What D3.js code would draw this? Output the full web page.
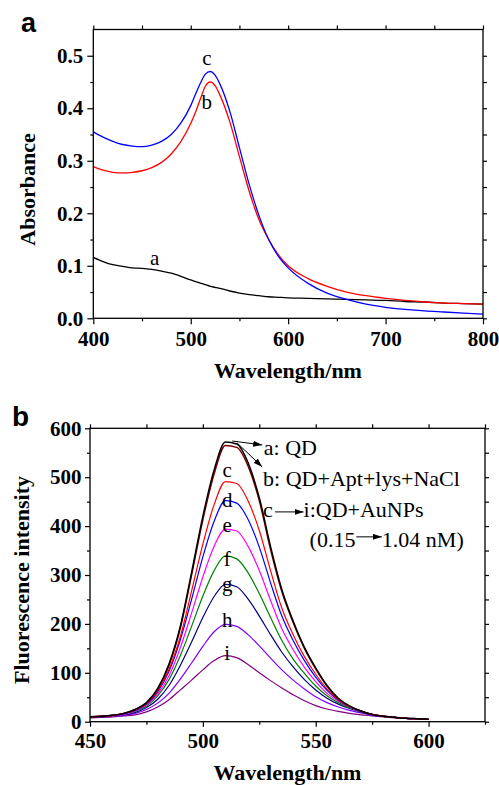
<!DOCTYPE html>
<html>
<head>
<meta charset="utf-8">
<script src="https://cdn.jsdelivr.net/npm/d3@7"></script>
<style>
  body { margin: 0; background: #fff; }
</style>
</head>
<body>
<div id="canvas"></div>
<script>
// ---- panel a: absorbance ----
const absWl = [400,410,420,430,440,450,460,470,480,490,500,505,510,515,520,525,530,540,550,560,570,580,590,600,620,640,660,680,700,720,740,760,780,800];
const absA = [.116,.108,.102,.099,.096,.095,.093,.090,.086,.080,.073,.070,.067,.064,.061,.059,.057,.052,.048,.045,.043,.041,.040,.039,.038,.037,.036,.035,.034,.032,.031,.029,.028,.027];
const absB = [.289,.282,.278,.277,.278,.281,.287,.297,.313,.337,.371,.393,.418,.442,.450,.443,.425,.375,.308,.242,.188,.150,.121,.100,.076,.061,.050,.043,.038,.034,.031,.029,.028,.027];
const absC = [.355,.345,.337,.331,.328,.327,.330,.337,.350,.372,.405,.427,.448,.465,.470,.463,.446,.395,.325,.255,.196,.150,.118,.096,.067,.048,.036,.027,.021,.017,.014,.012,.010,.008];
const absNames = ["a", "b", "c"];
const absColors = ["#000000", "#ff0000", "#0000ff"];
// label anchor (wavelength, absorbance) for each curve letter
const absLabelWl = [463, 516.5, 516.5];
const absLabelY = [0.101, 0.399, 0.483];

// ---- panel b: fluorescence ----
const flWl = [450,455,460,465,470,475,480,485,490,495,500,505,510,515,520,525,530,535,540,545,550,555,560,565,570,575,580,585,590,595,600];
const flA = [10,11,13,17,25,39,68,118,195,305,420,515,572,568,530,458,358,270,206,152,110,74,48,32,22,15,11,9,7,6,5];
const flB = [10,11,13,17,25,38,66,115,191,300,413,507,565,561,523,452,352,266,203,150,108,73,47,32,22,15,11,9,7,6,5];
const flC = [10,11,13,17,24,37,63,107,174,267,363,444,491,487,452,391,309,232,178,133,97,67,45,31,22,15,11,9,7,6,5];
const flD = [10,11,13,16,23,36,61,103,167,250,337,410,452,447,414,357,284,216,166,125,91,64,44,31,22,15,11,9,7,6,5];
const flE = [10,11,12,15,22,34,57,94,151,222,296,359,394,390,359,309,248,190,147,111,82,58,42,30,21,15,11,9,7,6,5];
const flF = [10,11,12,15,21,32,53,86,135,195,257,309,339,333,305,262,213,166,128,99,73,53,39,29,21,15,11,9,7,6,5];
const flG = [10,10,12,14,19,29,46,74,115,163,213,256,281,276,251,216,178,142,112,86,65,48,36,27,20,14,11,9,7,6,5];
const flH = [9,10,11,13,17,25,38,58,87,120,154,184,199,195,178,155,130,106,85,67,51,39,30,23,18,13,11,9,7,6,5];
const flI = [8,9,10,12,14,20,30,45,65,85,106,125,135,131,117,100,84,69,55,43,33,26,21,17,14,12,10,8,7,6,5];
const flNames = ["a","b","c","d","e","f","g","h","i"];
const flColors = ["#000000","#800000","#ff0000","#0000ff","#ff00ff","#008000","#000080","#8000ff","#800080"];
// letter baselines (intensity units) for c..i
const flLabelY = [null, null, 501, 439, 388, 318, 267, 194, 126];

const serif = "'Liberation Serif','Times New Roman',serif";
const sans = "'Liberation Sans',Arial,sans-serif";

const width = 499, height = 785;
const svg = d3.select("#canvas").append("svg")
  .attr("width", width).attr("height", height);

svg.append("defs").append("marker")
  .attr("id", "arr")
  .attr("markerUnits", "userSpaceOnUse")
  .attr("markerWidth", 9).attr("markerHeight", 6)
  .attr("refX", 9).attr("refY", 3)
  .attr("orient", "auto")
  .append("path").attr("d", "M0,0L9,3L0,6Z").attr("fill", "#000");

// draws the four sides of a framed plot with major + minor ticks
function frame(g, x, y, o) {
  const [x0, x1] = x.range(), [y0, y1] = y.range();
  const styleTicks = sel => {
    sel.select(".domain").remove();
    sel.selectAll("line").attr("stroke", "#000").attr("stroke-width", 1.2);
    sel.selectAll("text").attr("font-family", serif).attr("font-weight", "bold")
      .attr("font-size", o.fs).attr("fill", "#000");
  };
  g.append("g").attr("transform", `translate(0,${y0})`)
    .call(d3.axisBottom(x).tickValues(o.xMajor).tickSize(o.tick).tickSizeOuter(0)
      .tickPadding(o.xPad).tickFormat(d3.format("d"))).call(styleTicks);
  g.append("g").attr("transform", `translate(0,${y0})`)
    .call(d3.axisBottom(x).tickValues(o.xMinor).tickSize(3).tickFormat("")).call(styleTicks);
  g.append("g").attr("transform", `translate(0,${y1})`)
    .call(d3.axisTop(x).tickValues(o.xMajor.concat(o.xMinor)).tickSize(4).tickFormat("")).call(styleTicks);
  g.append("g").attr("transform", `translate(${x0},0)`)
    .call(d3.axisLeft(y).tickValues(o.yMajor).tickSize(o.tick).tickSizeOuter(0)
      .tickPadding(o.yPad).tickFormat(o.yFmt)).call(styleTicks);
  g.append("g").attr("transform", `translate(${x0},0)`)
    .call(d3.axisLeft(y).tickValues(o.yMinor).tickSize(3).tickFormat("")).call(styleTicks);
  g.append("g").attr("transform", `translate(${x1},0)`)
    .call(d3.axisRight(y).tickValues(o.yMajor.concat(o.yMinor)).tickSize(4).tickFormat("")).call(styleTicks);
  g.append("rect")
    .attr("x", x0).attr("y", y1).attr("width", x1 - x0).attr("height", y0 - y1)
    .attr("fill", "none").attr("stroke", "#000").attr("stroke-width", 1.3);
}

// ---------- panel a ----------
const xa = d3.scaleLinear().domain([400, 800]).range([93.3, 483]);
const ya = d3.scaleLinear().domain([0, 0.55]).range([318.3, 29.5]);
const ga = svg.append("g");

const lineA = d3.line().x(d => xa(d[0])).y(d => ya(d[1])).curve(d3.curveMonotoneX);
const absSeries = [absA, absB, absC];
absSeries.forEach((s, i) => {
  ga.append("path")
    .datum(absWl.map((w, k) => [w, s[k]]))
    .attr("d", lineA)
    .attr("fill", "none")
    .attr("stroke", absColors[i])
    .attr("stroke-width", 1.3);
});

frame(ga, xa, ya, {
  xMajor: [400, 500, 600, 700, 800], xMinor: [450, 550, 650, 750],
  yMajor: [0, 0.1, 0.2, 0.3, 0.4, 0.5], yMinor: [0.05, 0.15, 0.25, 0.35, 0.45],
  yFmt: d3.format(".1f"), fs: 21, tick: 6, xPad: 6.5, yPad: 4
});

ga.selectAll(".clab").data(absNames).enter().append("text")
  .attr("x", (d, i) => xa(absLabelWl[i]))
  .attr("y", (d, i) => ya(absLabelY[i]))
  .attr("text-anchor", "middle")
  .attr("font-family", serif).attr("font-size", 21)
  .text(d => d);

ga.append("text").attr("x", 288).attr("y", 378)
  .attr("text-anchor", "middle").attr("font-family", serif)
  .attr("font-weight", "bold").attr("font-size", 22).text("Wavelength/nm");
ga.append("text").attr("transform", "translate(35,189.5) rotate(-90)")
  .attr("text-anchor", "middle").attr("font-family", serif)
  .attr("font-weight", "bold").attr("font-size", 22).text("Absorbance");
ga.append("text").attr("x", 21).attr("y", 32)
  .attr("font-family", sans).attr("font-weight", "bold").attr("font-size", 27).text("a");

// ---------- panel b ----------
const xb = d3.scaleLinear().domain([450, 625]).range([90, 485]);
const yb = d3.scaleLinear().domain([0, 600]).range([721.7, 428.3]);
const gb = svg.append("g");

const lineB = d3.line().x(d => xb(d[0])).y(d => yb(d[1])).curve(d3.curveMonotoneX);
const flSeries = [flA, flB, flC, flD, flE, flF, flG, flH, flI];
flSeries.slice().reverse().forEach((s, r) => {
  const i = flSeries.length - 1 - r;
  gb.append("path")
    .datum(flWl.map((w, k) => [w, s[k]]))
    .attr("d", lineB)
    .attr("fill", "none")
    .attr("stroke", flColors[i])
    .attr("stroke-width", i < 2 ? 1.5 : 1.2);
});

frame(gb, xb, yb, {
  xMajor: [450, 500, 550, 600], xMinor: [475, 525, 575, 625],
  yMajor: [0, 100, 200, 300, 400, 500, 600], yMinor: [50, 150, 250, 350, 450, 550],
  yFmt: d3.format("d"), fs: 21, tick: 5, xPad: 6.8, yPad: 3.5
});

gb.selectAll(".flab").data(flNames.slice(2)).enter().append("text")
  .attr("x", xb(510.8))
  .attr("y", (d, i) => yb(flLabelY[i + 2]))
  .attr("text-anchor", "middle")
  .attr("font-family", serif).attr("font-size", 21)
  .text(d => d);

// legend with arrows
const legend = gb.append("g").attr("font-family", serif).attr("font-size", 22);
gb.append("line")
  .attr("x1", xb(513)).attr("y1", yb(574)).attr("x2", xb(526.3)).attr("y2", yb(566))
  .attr("stroke", "#000").attr("stroke-width", 1).attr("marker-end", "url(#arr)");
gb.append("line")
  .attr("x1", xb(515.2)).attr("y1", yb(570)).attr("x2", xb(526.3)).attr("y2", yb(521))
  .attr("stroke", "#000").attr("stroke-width", 1).attr("marker-end", "url(#arr)");
legend.append("text").attr("x", xb(527)).attr("y", yb(545)).text("a: QD");
legend.append("text").attr("x", xb(526.7)).attr("y", yb(482)).text("b: QD+Apt+lys+NaCl");
legend.append("text").attr("x", xb(526.7)).attr("y", yb(419)).text("c");
gb.append("line")
  .attr("x1", xb(532)).attr("y1", yb(429)).attr("x2", xb(544.6)).attr("y2", yb(429))
  .attr("stroke", "#000").attr("stroke-width", 1).attr("marker-end", "url(#arr)");
legend.append("text").attr("x", xb(544.6)).attr("y", yb(419)).text("i:QD+AuNPs");
legend.append("text").attr("x", xb(547.3)).attr("y", yb(358)).text("(0.15");
gb.append("line")
  .attr("x1", xb(568)).attr("y1", yb(378)).attr("x2", xb(579.3)).attr("y2", yb(378))
  .attr("stroke", "#000").attr("stroke-width", 1).attr("marker-end", "url(#arr)");
legend.append("text").attr("x", xb(579.3)).attr("y", yb(358)).text("1.04 nM)");

gb.append("text").attr("x", 287.5).attr("y", 780)
  .attr("text-anchor", "middle").attr("font-family", serif)
  .attr("font-weight", "bold").attr("font-size", 22).text("Wavelength/nm");
gb.append("text").attr("transform", "translate(29,580) rotate(-90)")
  .attr("text-anchor", "middle").attr("font-family", serif)
  .attr("font-weight", "bold").attr("font-size", 22).text("Fluorescence intensity");
gb.append("text").attr("x", 12).attr("y", 426)
  .attr("font-family", sans).attr("font-weight", "bold").attr("font-size", 28).text("b");
</script>
</body>
</html>
